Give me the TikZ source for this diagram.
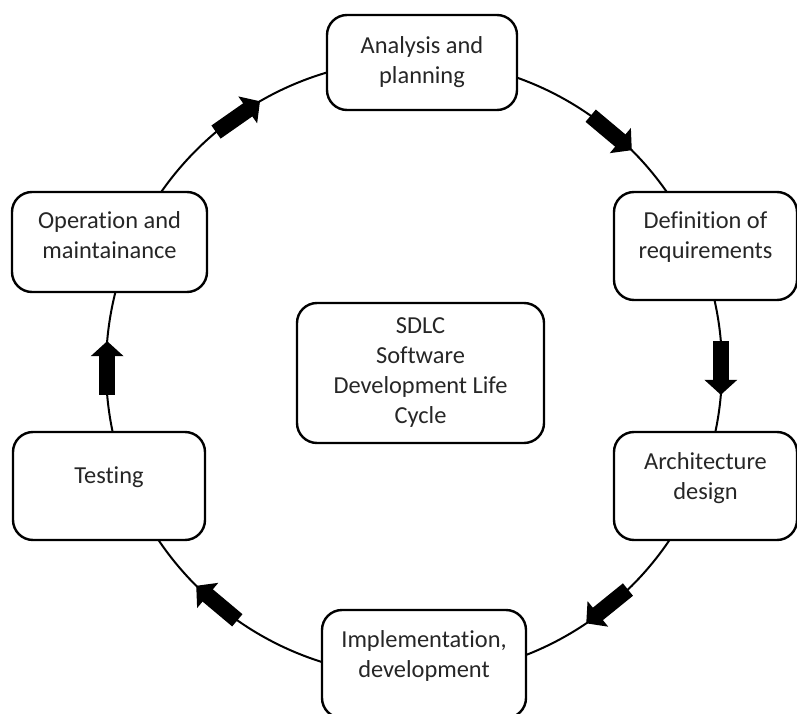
\documentclass[tikz,border=0pt]{standalone}
\usepackage{fontspec}
\setmainfont{Carlito}[Ligatures={NoCommon}]
\usepackage{tikz}
\usetikzlibrary{arrows.meta}

\begin{document}
\begin{tikzpicture}[x=0.5pt,y=0.5pt]
\tikzset{phase/.style={draw, fill=white, line width=1.2pt, rounded corners=10pt, align=center,
    text=black!85, font=\fontsize{12.2pt}{15pt}\selectfont},
  lifted/.style={text depth=10.4pt},
  flow/.style={line width=8pt, -{Triangle[length=7.5pt,width=16pt]}}}
\useasboundingbox (0,0) rectangle (797,713);
%
\coordinate (c) at (414,345);
\draw[line width=1pt] (c) circle (308);
\foreach \a/\b in {130/120, 55/45, 5/-5, -46/-56, -125/-135, 185/175}
  \draw[flow] ([shift={(\a:308)}]c) -- ([shift={(\b:308)}]c);
%
\node[phase, minimum width=95pt, minimum height=47.5pt] (plan) at (422,650.5) {Analysis and\\planning};
\node[phase, lifted, minimum width=91.5pt, minimum height=54pt] (reqs) at (705.5,467) {Definition of\\requirements};
\node[phase, lifted, minimum width=91.5pt, minimum height=54pt] (arch) at (705.5,227) {Architecture\\design};
\node[phase, lifted, minimum width=102pt, minimum height=54pt] (impl) at (424,49) {Implementation,\\development};
\node[phase, lifted, minimum width=96pt, minimum height=54pt] (test) at (109,227) {Testing};
\node[phase, text depth=7pt, minimum width=97.5pt, minimum height=50pt] (oper) at (109.5,471) {Operation and\\maintainance};
%
\node[phase, minimum width=123.5pt, minimum height=70pt] (sdlc) at (420.5,340) {SDLC\\Software\\Development Life\\Cycle};
\end{tikzpicture}
\end{document}
